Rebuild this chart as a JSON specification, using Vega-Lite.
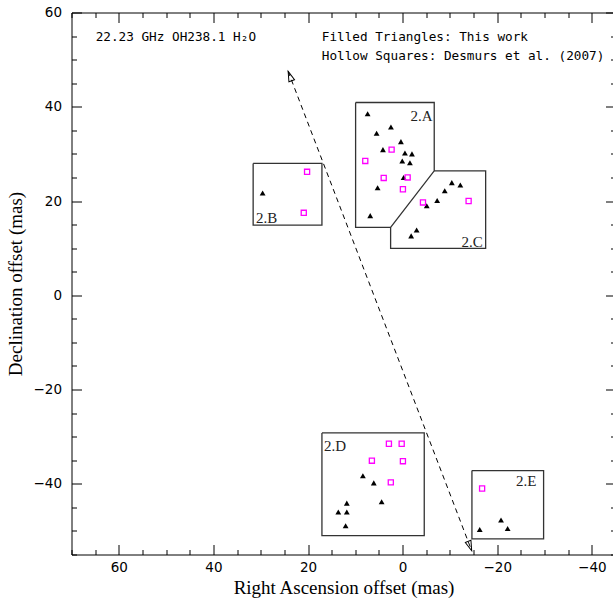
{
  "$schema": "https://vega.github.io/schema/vega-lite/v6.json",
  "width": 544,
  "height": 542,
  "autosize": {"type": "none"},
  "padding": {"left": 71.5, "top": 12.5, "right": 0, "bottom": 45.5},
  "background": "white",
  "config": {
    "view": {"stroke": "black", "strokeWidth": 1},
    "axis": {
      "grid": false,
      "domain": false,
      "tickColor": "black",
      "tickWidth": 1,
      "labelColor": "black",
      "titleColor": "black",
      "labelFont": "DejaVu Sans",
      "labelFontSize": 13.5,
      "titleFont": "Liberation Serif",
      "titleFontSize": 19,
      "titleFontWeight": "normal"
    }
  },
  "datasets": {
    "points": [
      {"group": "2.A", "set": "This work", "ra": 7.4, "dec": 38.5},
      {"group": "2.A", "set": "This work", "ra": 2.47, "dec": 35.7},
      {"group": "2.A", "set": "This work", "ra": 5.5, "dec": 34.4},
      {"group": "2.A", "set": "This work", "ra": 0.36, "dec": 32.6},
      {"group": "2.A", "set": "This work", "ra": 4.16, "dec": 30.9},
      {"group": "2.A", "set": "This work", "ra": -0.49, "dec": 30.2},
      {"group": "2.A", "set": "This work", "ra": -1.97, "dec": 30.0},
      {"group": "2.A", "set": "This work", "ra": 0.08, "dec": 28.5},
      {"group": "2.A", "set": "This work", "ra": -1.54, "dec": 28.1},
      {"group": "2.A", "set": "This work", "ra": -0.21, "dec": 25.0},
      {"group": "2.A", "set": "This work", "ra": 5.29, "dec": 22.8},
      {"group": "2.A", "set": "This work", "ra": 6.85, "dec": 16.9},
      {"group": "2.B", "set": "This work", "ra": 29.6, "dec": 21.7},
      {"group": "2.C", "set": "This work", "ra": -10.4, "dec": 23.9},
      {"group": "2.C", "set": "This work", "ra": -12.2, "dec": 23.4},
      {"group": "2.C", "set": "This work", "ra": -8.9, "dec": 22.2},
      {"group": "2.C", "set": "This work", "ra": -7.3, "dec": 20.1},
      {"group": "2.C", "set": "This work", "ra": -5.1, "dec": 19.0},
      {"group": "2.C", "set": "This work", "ra": -2.96, "dec": 13.85},
      {"group": "2.C", "set": "This work", "ra": -1.8, "dec": 12.6},
      {"group": "2.D", "set": "This work", "ra": 8.4, "dec": -38.3},
      {"group": "2.D", "set": "This work", "ra": 6.1, "dec": -39.8},
      {"group": "2.D", "set": "This work", "ra": 4.44, "dec": -43.8},
      {"group": "2.D", "set": "This work", "ra": 11.8, "dec": -44.1},
      {"group": "2.D", "set": "This work", "ra": 13.6, "dec": -46.0},
      {"group": "2.D", "set": "This work", "ra": 11.8, "dec": -46.0},
      {"group": "2.D", "set": "This work", "ra": 12.05, "dec": -48.9},
      {"group": "2.E", "set": "This work", "ra": -20.8, "dec": -47.7},
      {"group": "2.E", "set": "This work", "ra": -16.3, "dec": -49.7},
      {"group": "2.E", "set": "This work", "ra": -22.2, "dec": -49.5},
      {"group": "2.A", "set": "Desmurs et al. (2007)", "ra": 2.33, "dec": 30.9},
      {"group": "2.A", "set": "Desmurs et al. (2007)", "ra": 7.9, "dec": 28.5},
      {"group": "2.A", "set": "Desmurs et al. (2007)", "ra": 4.0, "dec": 24.9},
      {"group": "2.A", "set": "Desmurs et al. (2007)", "ra": -1.06, "dec": 25.0},
      {"group": "2.A", "set": "Desmurs et al. (2007)", "ra": -0.06, "dec": 22.5},
      {"group": "2.B", "set": "Desmurs et al. (2007)", "ra": 20.2, "dec": 26.2},
      {"group": "2.B", "set": "Desmurs et al. (2007)", "ra": 20.9, "dec": 17.5},
      {"group": "2.C", "set": "Desmurs et al. (2007)", "ra": -4.3, "dec": 19.7},
      {"group": "2.C", "set": "Desmurs et al. (2007)", "ra": -13.95, "dec": 20.0},
      {"group": "2.D", "set": "Desmurs et al. (2007)", "ra": 2.9, "dec": -31.5},
      {"group": "2.D", "set": "Desmurs et al. (2007)", "ra": 0.2, "dec": -31.5},
      {"group": "2.D", "set": "Desmurs et al. (2007)", "ra": 6.5, "dec": -35.1},
      {"group": "2.D", "set": "Desmurs et al. (2007)", "ra": -0.06, "dec": -35.2},
      {"group": "2.D", "set": "Desmurs et al. (2007)", "ra": 2.5, "dec": -39.7},
      {"group": "2.E", "set": "Desmurs et al. (2007)", "ra": -16.8, "dec": -41.0}
    ],
    "boxes": [
      {"box": "2.A", "seq": 1, "ra": 9.94, "dec": 40.9},
      {"box": "2.A", "seq": 2, "ra": -6.68, "dec": 40.9},
      {"box": "2.A", "seq": 3, "ra": -6.68, "dec": 26.4},
      {"box": "2.A", "seq": 4, "ra": 2.54, "dec": 14.4},
      {"box": "2.A", "seq": 5, "ra": 9.94, "dec": 14.4},
      {"box": "2.A", "seq": 6, "ra": 9.94, "dec": 40.9},
      {"box": "2.C", "seq": 1, "ra": -6.68, "dec": 26.4},
      {"box": "2.C", "seq": 2, "ra": -17.55, "dec": 26.4},
      {"box": "2.C", "seq": 3, "ra": -17.55, "dec": 9.95},
      {"box": "2.C", "seq": 4, "ra": 2.54, "dec": 9.95},
      {"box": "2.C", "seq": 5, "ra": 2.54, "dec": 14.4},
      {"box": "2.B", "seq": 1, "ra": 31.6, "dec": 27.97},
      {"box": "2.B", "seq": 2, "ra": 17.06, "dec": 27.97},
      {"box": "2.B", "seq": 3, "ra": 17.06, "dec": 14.9},
      {"box": "2.B", "seq": 4, "ra": 31.6, "dec": 14.9},
      {"box": "2.B", "seq": 5, "ra": 31.6, "dec": 27.97},
      {"box": "2.D", "seq": 1, "ra": 17.06, "dec": -29.2},
      {"box": "2.D", "seq": 2, "ra": -4.57, "dec": -29.2},
      {"box": "2.D", "seq": 3, "ra": -4.57, "dec": -51.0},
      {"box": "2.D", "seq": 4, "ra": 17.06, "dec": -51.0},
      {"box": "2.D", "seq": 5, "ra": 17.06, "dec": -29.2},
      {"box": "2.E", "seq": 1, "ra": -14.65, "dec": -37.2},
      {"box": "2.E", "seq": 2, "ra": -29.8, "dec": -37.2},
      {"box": "2.E", "seq": 3, "ra": -29.8, "dec": -51.7},
      {"box": "2.E", "seq": 4, "ra": -14.65, "dec": -51.7},
      {"box": "2.E", "seq": 5, "ra": -14.65, "dec": -37.2}
    ],
    "arrow": [
      {"end": "top", "ra": 24.2, "dec": 47.5},
      {"end": "bottom", "ra": -14.6, "dec": -54.2}
    ],
    "labels": [
      {"label": "2.A", "ra": -4.0, "dec": 38.1},
      {"label": "2.B", "ra": 28.75, "dec": 16.5},
      {"label": "2.C", "ra": -14.7, "dec": 11.2},
      {"label": "2.D", "ra": 14.3, "dec": -31.9},
      {"label": "2.E", "ra": -26.1, "dec": -39.3}
    ],
    "notes": [
      {"text": "22.23 GHz OH238.1 H₂O", "ra": 64.9, "dec": 54.8},
      {"text": "Filled Triangles: This work", "ra": 17.1, "dec": 54.8},
      {"text": "Hollow Squares: Desmurs et al. (2007)", "ra": 17.1, "dec": 50.7}
    ]
  },
  "layer": [
    {
      "data": {"name": "boxes"},
      "mark": {"type": "line", "color": "#333333", "strokeWidth": 1.3},
      "encoding": {
        "x": {"field": "ra", "type": "quantitative",
          "scale": {"domain": [-45, 70], "reverse": true, "nice": false, "zero": false},
          "axis": {"orient": "bottom", "values": [-40, -20, 0, 20, 40, 60], "ticks": false, "tickSize": 0, "labelPadding": 6, "title": "Right Ascension offset (mas)", "titlePadding": 4}},
        "y": {"field": "dec", "type": "quantitative",
          "scale": {"domain": [-55, 60], "nice": false, "zero": false},
          "axis": {"orient": "left", "values": [-40, -20, 0, 20, 40, 60], "ticks": false, "tickSize": 0, "labelPadding": 10, "title": "Declination offset (mas)", "titlePadding": 8}},
        "detail": {"field": "box"},
        "order": {"field": "seq", "type": "quantitative"}
      }
    },
    {
      "data": {"name": "arrow"},
      "mark": {"type": "line", "color": "black", "strokeWidth": 1, "strokeDash": [5, 4]},
      "encoding": {
        "x": {"field": "ra", "type": "quantitative",
          "axis": {"orient": "bottom", "values": [-40, -20, 0, 20, 40, 60], "labels": false, "tickSize": -10, "title": null}},
        "y": {"field": "dec", "type": "quantitative",
          "axis": {"orient": "left", "values": [-40, -20, 0, 20, 40, 60], "labels": false, "tickSize": -10, "title": null}}
      }
    },
    {
      "data": {"name": "arrow"},
      "transform": [{"filter": "datum.end === 'top'"}],
      "mark": {"type": "point", "shape": "M0,0L0.6,2L-0.6,2Z", "filled": false, "stroke": "black", "strokeWidth": 1, "size": 100, "angle": 339.1, "opacity": 1},
      "encoding": {
        "x": {"field": "ra", "type": "quantitative",
          "axis": {"orient": "bottom", "values": [-45, -35, -30, -25, -15, -10, -5, 5, 10, 15, 25, 30, 35, 45, 50, 55, 65, 70], "labels": false, "tickSize": -5, "title": null}},
        "y": {"field": "dec", "type": "quantitative",
          "axis": {"orient": "left", "values": [-55, -50, -45, -35, -30, -25, -15, -10, -5, 5, 10, 15, 25, 30, 35, 45, 50, 55], "labels": false, "tickSize": -5, "title": null}}
      }
    },
    {
      "data": {"name": "arrow"},
      "transform": [{"filter": "datum.end === 'bottom'"}],
      "mark": {"type": "point", "shape": "M0,0L0.6,2L-0.6,2Z", "filled": false, "stroke": "black", "strokeWidth": 1, "size": 100, "angle": 159.1, "opacity": 1},
      "encoding": {
        "x": {"field": "ra", "type": "quantitative",
          "axis": {"orient": "top", "values": [-40, -20, 0, 20, 40, 60], "labels": false, "tickSize": -10, "title": null}},
        "y": {"field": "dec", "type": "quantitative",
          "axis": {"orient": "right", "values": [-40, -20, 0, 20, 40, 60], "labels": false, "tickSize": -10, "title": null}}
      }
    },
    {
      "data": {"name": "points"},
      "transform": [{"filter": "datum.set === 'This work'"}],
      "mark": {"type": "point", "shape": "triangle-up", "filled": true, "color": "black", "size": 34, "opacity": 1},
      "encoding": {
        "x": {"field": "ra", "type": "quantitative",
          "axis": {"orient": "top", "values": [-45, -35, -30, -25, -15, -10, -5, 5, 10, 15, 25, 30, 35, 45, 50, 55, 65, 70], "labels": false, "tickSize": -5, "title": null}},
        "y": {"field": "dec", "type": "quantitative",
          "axis": {"orient": "right", "values": [-55, -50, -45, -35, -30, -25, -15, -10, -5, 5, 10, 15, 25, 30, 35, 45, 50, 55], "labels": false, "tickSize": -5, "title": null}}
      }
    },
    {
      "data": {"name": "points"},
      "transform": [{"filter": "datum.set !== 'This work'"}],
      "mark": {"type": "point", "shape": "square", "filled": false, "stroke": "#ff00ff", "strokeWidth": 1.3, "size": 26, "opacity": 1},
      "encoding": {
        "x": {"field": "ra", "type": "quantitative", "axis": null},
        "y": {"field": "dec", "type": "quantitative", "axis": null}
      }
    },
    {
      "data": {"name": "labels"},
      "mark": {"type": "text", "font": "Liberation Serif", "fontSize": 15, "color": "#222222", "align": "center", "baseline": "middle"},
      "encoding": {
        "x": {"field": "ra", "type": "quantitative", "axis": null},
        "y": {"field": "dec", "type": "quantitative", "axis": null},
        "text": {"field": "label"}
      }
    },
    {
      "data": {"name": "notes"},
      "mark": {"type": "text", "font": "DejaVu Sans Mono", "fontSize": 12.7, "color": "black", "align": "left", "baseline": "middle"},
      "encoding": {
        "x": {"field": "ra", "type": "quantitative", "axis": null},
        "y": {"field": "dec", "type": "quantitative", "axis": null},
        "text": {"field": "text"}
      }
    }
  ],
  "resolve": {"axis": {"x": "independent", "y": "independent"}}
}
